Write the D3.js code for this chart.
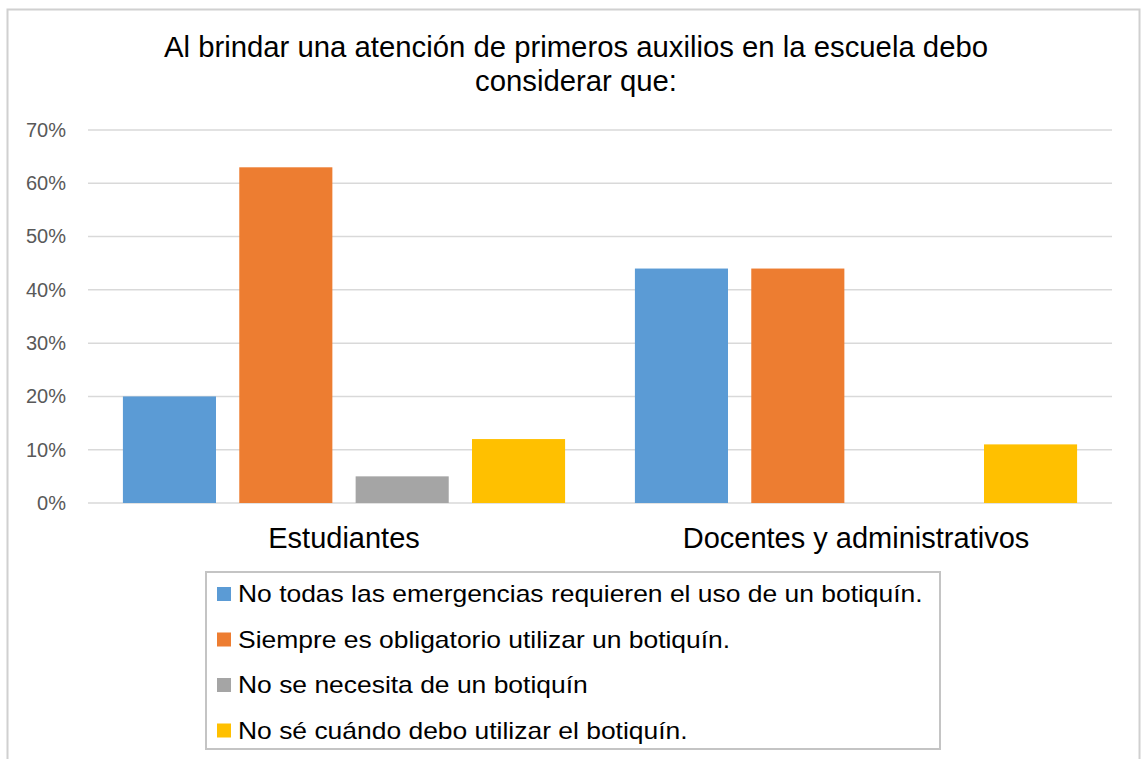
<!DOCTYPE html>
<html lang="es">
<head>
    <meta charset="UTF-8">
    <script src="https://d3js.org/d3.v7.min.js"></script>
    <style>
        body { margin: 0; background: #fff; font-family: "Liberation Sans", Arial, sans-serif; }
        svg { display: block; }
    </style>
</head>
<body>
    <svg id="chart"></svg>

    <script>
        // datos
        const categorias = ["Estudiantes", "Docentes y administrativos"];
        const series = [
            "No todas las emergencias requieren el uso de un botiquín.",
            "Siempre es obligatorio utilizar un botiquín.",
            "No se necesita de un botiquín",
            "No sé cuándo debo utilizar el botiquín."
        ];
        const estudiantes = [0.20, 0.63, 0.05, 0.12];
        const docentes = [0.44, 0.44, 0, 0.11];
        const yTicks = [0, 0.1, 0.2, 0.3, 0.4, 0.5, 0.6, 0.7];
        const colores = ["#5B9BD5", "#ED7D31", "#A5A5A5", "#FFC000"];
        const titulo = ["Al brindar una atención de primeros auxilios en la escuela debo", "considerar que:"];

        const W = 1141, H = 759;
        const plot = {left: 88, right: 1112, top: 130, bottom: 503};

        const svg = d3.select("#chart")
            .attr("width", W)
            .attr("height", H);

        // marco exterior
        svg.append("rect")
            .attr("x", 7.5).attr("y", 9.5)
            .attr("width", 1132).attr("height", 800)
            .attr("fill", "#fff")
            .attr("stroke", "#d0d0d0")
            .attr("stroke-width", 2);

        // titulo
        svg.append("text")
            .attr("text-anchor", "middle")
            .attr("font-size", 29.3)
            .attr("fill", "#000")
            .selectAll("tspan")
            .data(titulo)
            .enter()
            .append("tspan")
            .attr("x", 576)
            .attr("y", (d, i) => 57 + i * 34)
            .text(d => d);

        const x0 = d3.scaleBand()
            .domain(categorias)
            .range([plot.left, plot.right]);

        const x1 = d3.scaleBand()
            .domain(series)
            .range([0, x0.bandwidth()])
            .paddingInner(0.2)
            .paddingOuter(0.3);

        const y = d3.scaleLinear()
            .domain([0, 0.7])
            .range([plot.bottom, plot.top]);

        // lineas de cuadricula
        svg.append("g")
            .selectAll("line")
            .data(yTicks)
            .enter()
            .append("line")
            .attr("x1", plot.left)
            .attr("x2", plot.right)
            .attr("y1", d => y(d))
            .attr("y2", d => y(d))
            .attr("stroke", "#d9d9d9")
            .attr("stroke-width", 1.5);

        // eje y
        const yAxis = svg.append("g")
            .attr("transform", "translate(66,0)")
            .call(d3.axisLeft(y).tickValues(yTicks).tickFormat(d3.format(".0%")).tickSize(0).tickPadding(0));
        yAxis.select(".domain").remove();
        yAxis.selectAll("text")
            .attr("font-size", 20)
            .attr("font-family", "Liberation Sans, Arial, sans-serif")
            .attr("fill", "#595959");

        // barras
        const datos = categorias.map((c, i) => ({
            categoria: c,
            valores: (i === 0 ? estudiantes : docentes).map((v, j) => ({serie: series[j], valor: v, color: colores[j]}))
        }));

        const grupos = svg.append("g")
            .selectAll("g")
            .data(datos)
            .enter()
            .append("g")
            .attr("transform", d => `translate(${x0(d.categoria)},0)`);

        grupos.selectAll("rect")
            .data(d => d.valores.filter(v => v.valor > 0))
            .enter()
            .append("rect")
            .attr("x", d => x1(d.serie))
            .attr("y", d => y(d.valor))
            .attr("width", x1.bandwidth())
            .attr("height", d => y(0) - y(d.valor))
            .attr("fill", d => d.color);

        // eje x (etiquetas de categoria)
        const xAxis = svg.append("g")
            .attr("transform", `translate(0,${plot.bottom})`)
            .call(d3.axisBottom(x0).tickSize(0).tickPadding(0));
        xAxis.select(".domain").remove();
        xAxis.selectAll("text")
            .attr("dy", 0)
            .attr("y", 45)
            .attr("font-size", 29)
            .attr("font-family", "Liberation Sans, Arial, sans-serif")
            .attr("fill", "#000");

        // leyenda
        const leyenda = svg.append("g");
        leyenda.append("rect")
            .attr("x", 206).attr("y", 572)
            .attr("width", 734).attr("height", 177)
            .attr("fill", "#fff")
            .attr("stroke", "#c4c4c4")
            .attr("stroke-width", 2);

        const items = leyenda.selectAll(".item")
            .data(series)
            .enter()
            .append("g")
            .attr("class", "item")
            .attr("transform", (d, i) => `translate(217,${594 + i * 45.5})`);

        items.append("rect")
            .attr("x", 0).attr("y", -7)
            .attr("width", 14).attr("height", 14)
            .attr("fill", (d, i) => colores[i]);

        items.append("text")
            .attr("transform", "translate(21,8) scale(1.15,1)")
            .attr("font-size", 23)
            .attr("fill", "#000")
            .text(d => d);
    </script>
</body>
</html>
